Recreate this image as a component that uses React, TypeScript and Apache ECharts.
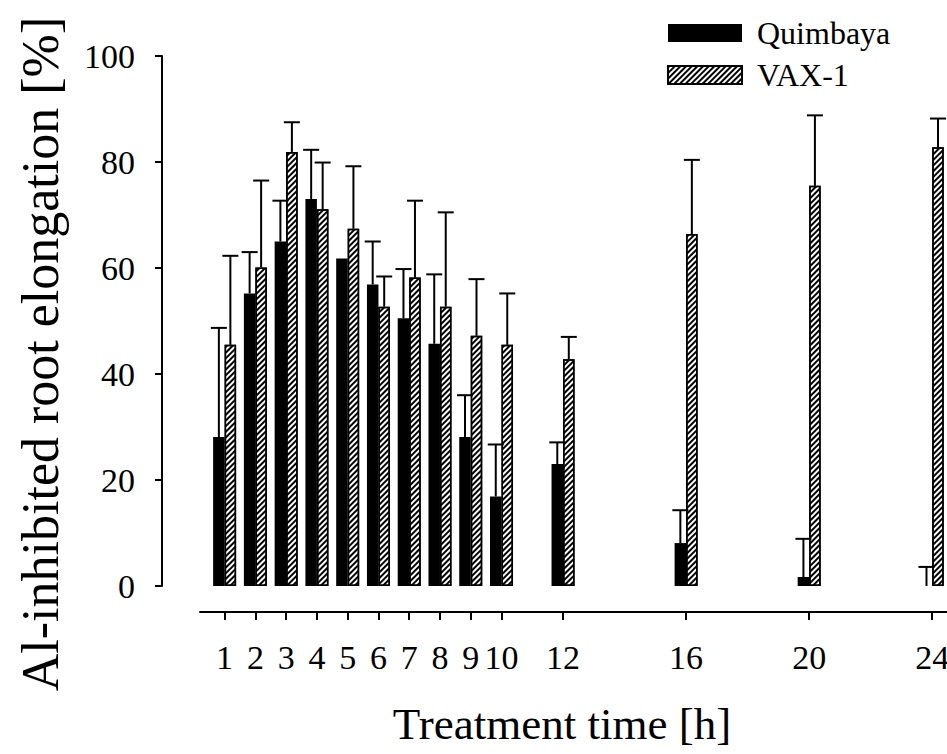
import React, { useEffect, useRef } from "react";
import * as echarts from "echarts";

const hours = [1, 2, 3, 4, 5, 6, 7, 8, 9, 10, 12, 16, 20, 24];
const tickValues = [1, 2, 3, 4, 5, 6, 7, 8, 9, 10, 12, 16, 20, 24];
const yTicks = [0, 20, 40, 60, 80, 100];
const quimbaya = [28.1, 55.2, 65.0, 73.0, 61.8, 56.9, 50.5, 45.7, 28.1, 16.9, 23.0, 8.1, 1.7, 0];
const quimbayaErr = [20.6, 7.8, 7.7, 9.3, null, 8.1, 9.3, 13.1, 7.9, 9.8, 4.1, 6.2, 7.2, 3.6];
const vax = [45.5, 60.1, 81.9, 71.1, 67.4, 52.7, 58.2, 52.7, 47.2, 45.5, 42.8, 66.4, 75.5, 82.8];
const vaxErr = [16.8, 16.4, 5.6, 8.8, 11.8, 5.7, 14.5, 17.8, 10.7, 9.7, 4.2, 14.0, 13.3, 5.4];

const FONT = "Liberation Serif";
const BAR_W = 11.5;

function errSeries(name: string, vals: number[], errs: (number | null)[], offset: number) {
  const data = hours
    .map((h, i) => (errs[i] == null ? null : [h, vals[i], errs[i]]))
    .filter((d) => d !== null);
  return {
    type: "custom",
    name,
    data,
    encode: { x: 0, y: 1 },
    clip: false,
    z: 5,
    renderItem: (params: any, api: any) => {
      const x = api.value(0);
      const v = api.value(1);
      const e = api.value(2);
      const p0 = api.coord([x, v]);
      const p1 = api.coord([x, v + e]);
      const cx = p0[0] + offset;
      return {
        type: "group",
        children: [
          { type: "line", shape: { x1: cx, y1: p0[1], x2: cx, y2: p1[1] }, style: { stroke: "#000", lineWidth: 2 } },
          { type: "line", shape: { x1: cx - 8, y1: p1[1], x2: cx + 8, y2: p1[1] }, style: { stroke: "#000", lineWidth: 2 } },
        ],
      };
    },
  };
}

export default function App() {
  const ref = useRef<HTMLDivElement>(null);
  useEffect(() => {
    if (!ref.current) return;
    const chart = echarts.init(ref.current, null, { renderer: "svg" });
    const option: any = {
      animation: false,
      backgroundColor: "#fff",
      textStyle: { fontFamily: FONT },
      grid: { left: 200, right: -16, top: 56, bottom: 168, containLabel: false, outerBoundsMode: "none" },
      legend: {
        data: ["Quimbaya", "VAX-1"],
        orient: "vertical",
        left: 662,
        top: 12,
        itemWidth: 74,
        itemHeight: 18,
        itemGap: 10,
        icon: "rect",
        textStyle: { fontFamily: FONT, fontSize: 32, color: "#000", padding: [0, 0, 0, 10] },
      },
      xAxis: {
        type: "value",
        min: 0.2,
        max: 25,
        offset: 26,
        splitLine: { show: false },
        axisLine: { show: true, onZero: false, lineStyle: { color: "#000", width: 2 } },
        axisTick: { show: true, customValues: tickValues, length: 8, lineStyle: { color: "#000", width: 2 } },
        axisLabel: { customValues: tickValues, fontFamily: FONT, fontSize: 34, color: "#000", margin: 28 },
      },
      yAxis: {
        type: "value",
        min: 0,
        max: 100,
        interval: 20,
        offset: 38,
        splitLine: { show: false },
        axisLine: { show: true, onZero: false, lineStyle: { color: "#000", width: 2 } },
        axisTick: { show: true, customValues: yTicks, length: 7, lineStyle: { color: "#000", width: 2 } },
        axisLabel: { fontFamily: FONT, fontSize: 34, color: "#000", margin: 27 },
      },
      series: [
        {
          type: "bar",
          name: "Quimbaya",
          data: hours.map((h, i) => [h, quimbaya[i]]),
          barWidth: BAR_W,
          barGap: "0%",
          itemStyle: { color: "#000", borderWidth: 0 },
        },
        {
          type: "bar",
          name: "VAX-1",
          data: hours.map((h, i) => [h, vax[i]]),
          barWidth: BAR_W,
          barGap: "0%",
          itemStyle: {
            color: "#fff",
            borderColor: "#000",
            borderWidth: 1.5,
            decal: {
              symbol: "rect",
              symbolSize: 1,
              color: "#000",
              backgroundColor: "#fff",
              dashArrayX: [1, 0],
              dashArrayY: [2, 2],
              rotation: -Math.PI / 4,
            },
          },
        },
        errSeries("Quimbaya SD", quimbaya, quimbayaErr, -BAR_W / 2),
        errSeries("VAX-1 SD", vax, vaxErr, BAR_W / 2),
      ],
      graphic: [
        {
          type: "text",
          x: 40,
          y: 354,
          rotation: Math.PI / 2,
          style: {
            text: "Al-inhibited root elongation [%]",
            font: `52px ${FONT}`,
            fill: "#000",
            textAlign: "center",
            textVerticalAlign: "middle",
          },
        },
        {
          type: "text",
          x: 562,
          y: 724,
          style: {
            text: "Treatment time [h]",
            font: `45px ${FONT}`,
            fill: "#000",
            textAlign: "center",
            textVerticalAlign: "middle",
          },
        },
      ],
    };
    chart.setOption(option);
    return () => chart.dispose();
  }, []);
  return (
    <div
      ref={ref}
      style={{ position: "absolute", left: 0, top: 0, width: 947, height: 754 }}
    />
  );
}
